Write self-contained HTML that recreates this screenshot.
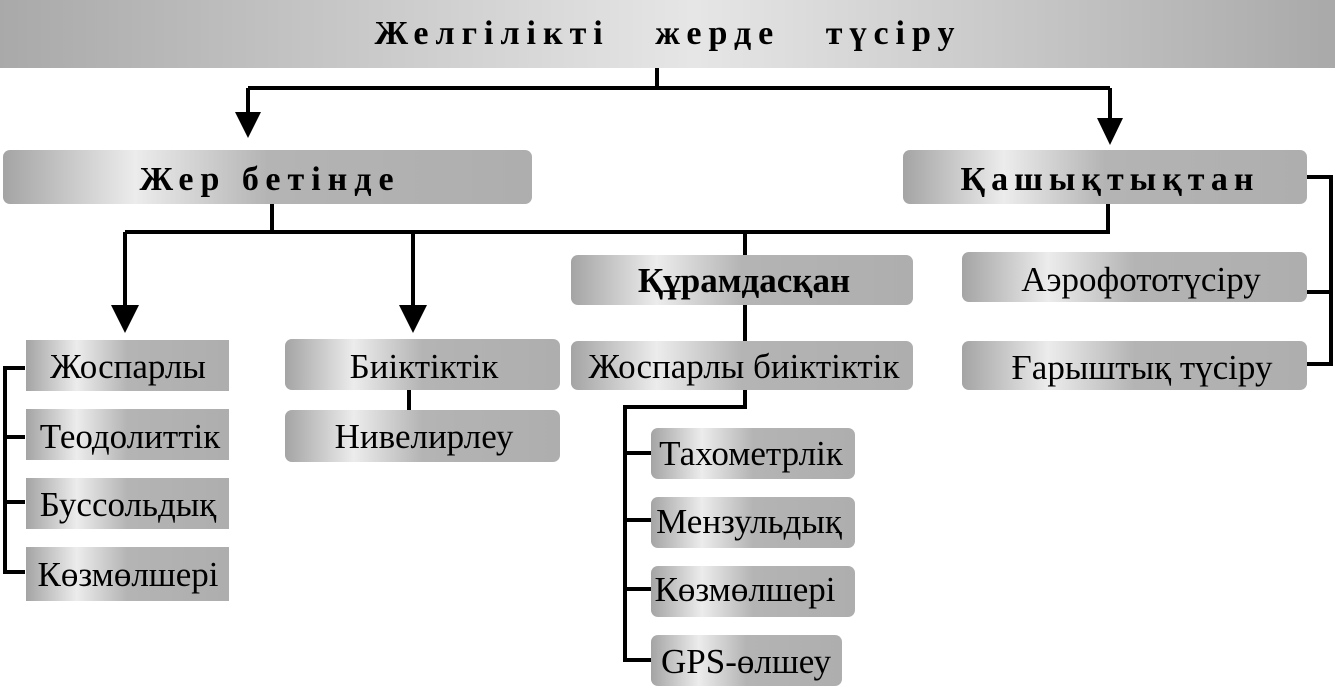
<!DOCTYPE html>
<html><head><meta charset="utf-8"><style>
html,body{margin:0;padding:0;background:#fff;}
svg{display:block;}
text{font-family:"Liberation Serif",serif;fill:#000;}
</style></head><body>
<svg width="1335" height="687" viewBox="0 0 1335 687" xmlns="http://www.w3.org/2000/svg">
<defs>
<linearGradient id="tg" x1="0" x2="1" y1="0" y2="0">
<stop offset="0" stop-color="#a9a9a9"/><stop offset="0.52" stop-color="#e6e6e6"/><stop offset="1" stop-color="#a9a9a9"/>
</linearGradient>
<linearGradient id="bg" x1="0" x2="1" y1="0" y2="0">
<stop offset="0" stop-color="#a4a4a4"/><stop offset="0.25" stop-color="#ececec"/><stop offset="0.5" stop-color="#b4b4b4"/><stop offset="1" stop-color="#aeaeae"/>
</linearGradient>
</defs>
<rect x="0" y="0" width="1335" height="68" fill="url(#tg)"/>
<text x="668" y="44" font-size="34" font-weight="bold" text-anchor="middle" letter-spacing="7" word-spacing="30">Желгілікті жерде түсіру</text>

<g fill="none" stroke="#000" stroke-width="4">
<path d="M657 68V88M248 88H1110M248 88V115M1110 88V120"/>
<path d="M272 204V232M125 232H1108V204M125 232V308M413 232V308M745 232V256"/>
<path d="M745 305V341M745 390V407H625V662M625 453H651M625 520H651M625 589H651M625 660H651"/>
<path d="M1307 177H1331V364H1307M1307 292H1331"/>
<path d="M25 368H5V572H25M5 437H25M5 502H25"/>
<path d="M409 390V410"/>
</g>
<g fill="#000">
<polygon points="235,112 261,112 248,138"/>
<polygon points="1097,118 1123,118 1110,145"/>
<polygon points="111,305 139,305 125,333"/>
<polygon points="399,305 427,305 413,333"/>
</g>

<g fill="url(#bg)">
<rect x="3" y="150" width="529" height="54" rx="7"/>
<rect x="903" y="150" width="404" height="54" rx="7"/>
<rect x="962" y="252" width="345" height="50" rx="7"/>
<rect x="962" y="341" width="345" height="49" rx="7"/>
<rect x="571" y="255" width="342" height="50" rx="7"/>
<rect x="571" y="341" width="342" height="49" rx="7"/>
<rect x="651" y="428" width="204" height="51" rx="7"/>
<rect x="651" y="497" width="204" height="51" rx="7"/>
<rect x="651" y="566" width="204" height="51" rx="7"/>
<rect x="651" y="635" width="191" height="51" rx="7"/>
<rect x="26" y="340" width="203" height="51"/>
<rect x="26" y="409" width="203" height="51"/>
<rect x="26" y="478" width="203" height="51"/>
<rect x="26" y="547" width="203" height="54"/>
<rect x="285" y="339" width="275" height="51" rx="7"/>
<rect x="285" y="410" width="275" height="52" rx="7"/>
</g>

<text x="270" y="190" font-size="34" font-weight="bold" text-anchor="middle" letter-spacing="7">Жер бетінде</text>
<text x="1110" y="190" font-size="34" font-weight="bold" text-anchor="middle" letter-spacing="6">Қашықтықтан</text>
<g font-size="35" text-anchor="middle">
<text x="1141" y="291">Аэрофототүсіру</text>
<text x="1142" y="379">Ғарыштық түсіру</text>
<text x="744" y="292" font-weight="bold">Құрамдасқан</text>
<text x="744" y="378">Жоспарлы биіктіктік</text>
<text x="751" y="465">Тахометрлік</text>
<text x="749" y="533">Мензульдық</text>
<text x="745" y="601">Көзмөлшері</text>
<text x="746" y="673">GPS-өлшеу</text>
<text x="128" y="378">Жоспарлы</text>
<text x="130" y="448">Теодолиттік</text>
<text x="128" y="516">Буссольдық</text>
<text x="128" y="586">Көзмөлшері</text>
<text x="424" y="378">Биіктіктік</text>
<text x="424" y="448">Нивелирлеу</text>
</g>
</svg>
</body></html>
